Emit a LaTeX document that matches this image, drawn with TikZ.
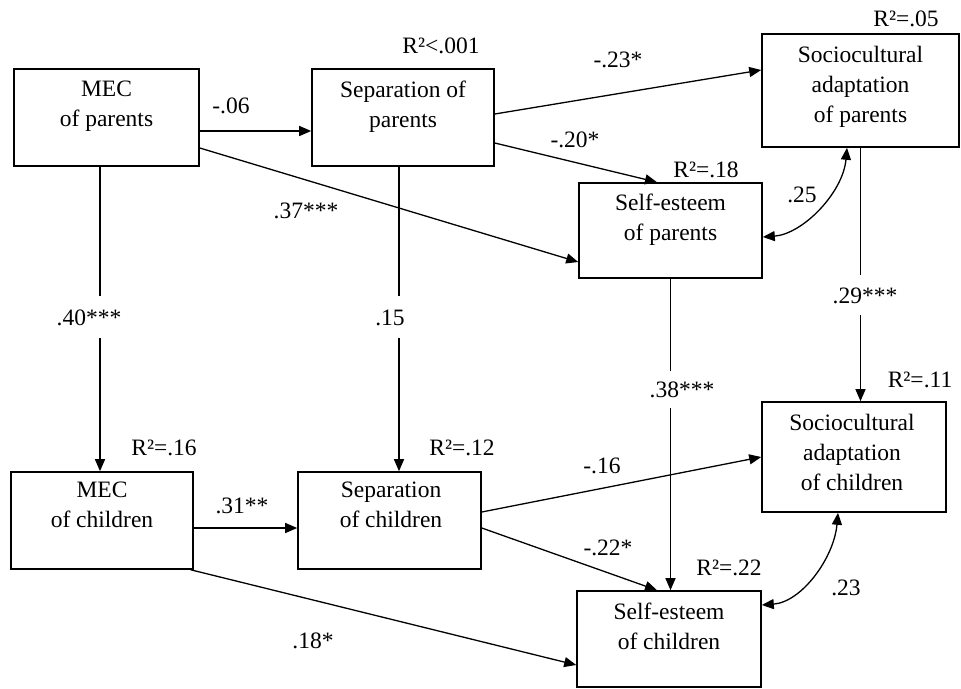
\documentclass[tikz,border=0pt]{standalone}
\usepackage{fontspec}
\setmainfont{Liberation Serif}
\usetikzlibrary{arrows.meta}
\tikzset{
  box/.style={draw, line width=1.6pt, inner sep=0pt},
  boxtext/.style={anchor=north, align=center, inner sep=0pt},
  arr/.style={line width=1.3pt, -{Triangle[length=12pt,width=10pt]}},
  darr/.style={line width=1.3pt, {Triangle[length=12pt,width=10pt]}-{Triangle[length=12pt,width=10pt]}},
  lbl/.style={anchor=base, inner sep=0pt},
  gaplbl/.style={anchor=base, fill=white, inner xsep=2pt, inner ysep=#1},
  gaplbl/.default=12pt
}
\begin{document}
\begin{tikzpicture}[x=1pt,y=-1pt,font=\fontsize{23.5}{30}\selectfont]
\useasboundingbox (0,0) rectangle (961,688);

% boxes
\node[box, minimum width=185pt, minimum height=97pt]  (mp) at (106.5,117.5) {};
\node[box, minimum width=182pt, minimum height=97pt]  (sp) at (403,117.5) {};
\node[box, minimum width=197pt, minimum height=113pt] (ap) at (860.5,90.5) {};
\node[box, minimum width=183pt, minimum height=95pt]  (ep) at (670.5,230.5) {};
\node[box, minimum width=182pt, minimum height=97pt]  (mc) at (102,520.5) {};
\node[box, minimum width=183pt, minimum height=97pt]  (sc) at (389.5,520.5) {};
\node[box, minimum width=184pt, minimum height=110pt] (ac) at (854,457) {};
\node[box, minimum width=184pt, minimum height=96pt]  (ec) at (669,639) {};

% box texts
\node[boxtext] (mpt) at ([yshift=-12.5pt]mp.north) {MEC\\of parents};
\node[boxtext] (spt) at ([yshift=-12.5pt]sp.north) {Separation of\\parents};
\node[boxtext] (apt) at ([yshift=-12.5pt]ap.north) {Sociocultural\\adaptation\\of parents};
\node[boxtext] (ept) at ([yshift=-11.5pt]ep.north) {Self-esteem\\of parents};
\node[boxtext] (mct) at ([yshift=-10.5pt]mc.north) {MEC\\of children};
\node[boxtext] (sct) at ([xshift=1.5pt,yshift=-10.5pt]sc.north) {Separation\\of children};
\node[boxtext] (act) at ([xshift=-2pt,yshift=-12.5pt]ac.north) {Sociocultural\\adaptation\\of children};
\node[boxtext] (ect) at ([yshift=-12.5pt]ec.north) {Self-esteem\\of children};

% connectors
\draw[arr] ([yshift=-13.5pt]mp.east) -- ([yshift=-13.5pt]mp.east -| sp.west);
\draw[arr] ([yshift=-30.5pt]mp.east) -- ([yshift=-31.5pt]ep.west);
\draw[arr] ([yshift=3.5pt]sp.east) -- ([yshift=20.5pt]ap.west);
\draw[arr] ([yshift=-25.5pt]sp.east) -- ([xshift=-13.5pt]ep.north);
\draw[darr] ([yshift=-6.5pt]ep.east) .. controls +(40,-3) and +(-4,45) .. ([xshift=-13.5pt]ap.south);
\draw[arr] (ap.south) -- (ap.south |- ac.north);
\draw[arr] (ep.south) -- (ep.south |- ec.north);
\draw[arr] ([xshift=-6.5pt]mp.south) -- ([xshift=-6.5pt]mp.south |- mc.north);
\draw[arr] ([xshift=-4pt]sp.south) -- ([xshift=-4pt]sp.south |- sc.north);
\draw[arr] ([yshift=-7.5pt]mc.east) -- ([yshift=-7.5pt]mc.east -| sc.west);
\draw[arr] ([xshift=-3pt]mc.south east) -- ([yshift=-26pt]ec.west);
\draw[arr] ([yshift=8.5pt]sc.east) -- (ac.west);
\draw[arr] ([yshift=-7.5pt]sc.east) -- ([xshift=-12pt]ec.north);
\draw[darr] ([yshift=34pt]ec.east) .. controls +(40,-3) and +(-4,45) .. ([xshift=-16pt]ac.south);

% R-squared labels
\node[lbl] (r1) at (441,53) {R²<.001};
\node[lbl] (r2) at (906,27) {R²=.05};
\node[lbl] (r3) at (706,177) {R²=.18};
\node[lbl] (r4) at (164,455) {R²=.16};
\node[lbl] (r5) at (462,455) {R²=.12};
\node[lbl] (r6) at (920,387) {R²=.11};
\node[lbl] (r7) at (729,575) {R²=.22};

% path coefficients
\node[lbl] (c1) at (231,113) {-.06};
\node[lbl] (c2) at (306,218) {.37***};
\node[lbl] (c3) at (618,67) {-.23*};
\node[lbl] (c4) at (575,147) {-.20*};
\node[lbl] (c5) at (802,202) {.25};
\node[gaplbl] (c6) at (865,303) {.29***};
\node[gaplbl=10.5pt] (c7) at (682,397) {.38***};
\node[gaplbl=13pt] (c8) at (89,325) {.40***};
\node[gaplbl=13pt] (c9) at (390,325) {.15};
\node[lbl] (c10) at (242,513) {.31**};
\node[lbl] (c11) at (313,648) {.18*};
\node[lbl] (c12) at (602,473) {-.16};
\node[lbl] (c13) at (608,555) {-.22*};
\node[lbl] (c14) at (846,595) {.23};
\end{tikzpicture}
\end{document}
